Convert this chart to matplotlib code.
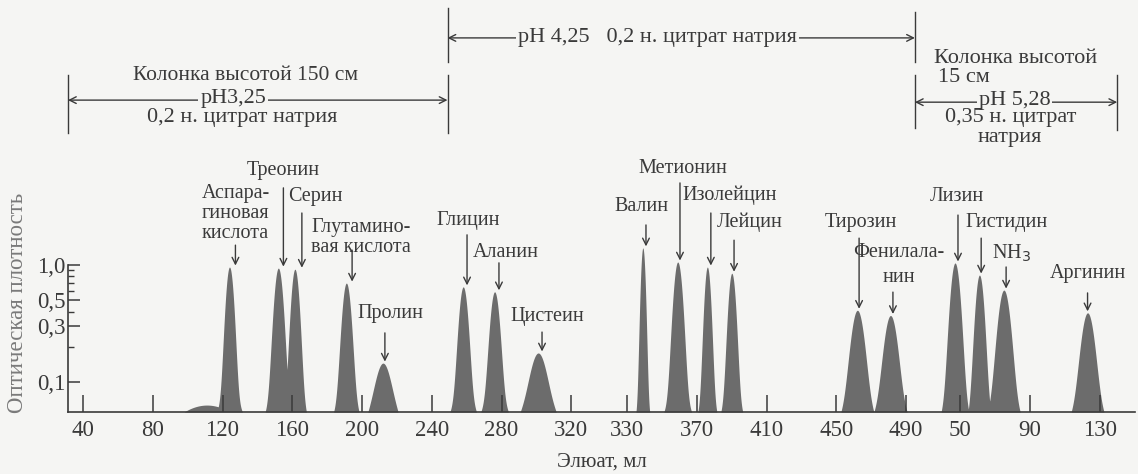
import matplotlib.pyplot as plt
import numpy as np

plt.rcParams['font.family'] = ['Liberation Serif', 'DejaVu Serif']

# пики аминокислот: сегмент шкалы элюата, объём элюата (мл), оптическая плотность в максимуме,
# ширина пика (мл) и полуширина основания (мл)
names = ['Аспара-\nгиновая\nкислота', 'Треонин', 'Серин', 'Глутамино-\nвая кислота', 'Пролин',
         'Глицин', 'Аланин', 'Цистеин', 'Валин', 'Метионин', 'Изолейцин', 'Лейцин',
         'Тирозин', 'Фенилала-\nнин', 'Лизин', 'Гистидин', 'NH$_3$', 'Аргинин']
segment = [0, 0, 0, 0, 0, 0, 0, 0, 1, 1, 1, 1, 1, 1, 2, 2, 2, 2]
eluate = [124, 152, 161.5, 191, 212, 258, 276, 301, 339, 359, 376, 390, 462, 481, 47, 61, 75, 123]
density = [0.96, 0.94, 0.92, 0.70, 0.145, 0.65, 0.59, 0.177, 1.40, 1.06, 0.96, 0.85,
           0.41, 0.37, 1.04, 0.82, 0.61, 0.39]
width = [1.95, 2.2, 2.0, 2.2, 3.7, 2.2, 2.3, 4.0, 1.15, 2.2, 1.6, 1.85, 3.2, 3.2, 2.4, 2.1, 3.0, 3.2]
base = [7.2, 6.9, 5.7, 6.6, 7.2, 7.2, 7.5, 8.9, 3.4, 7.5, 4.9, 5.7, 8.0, 8.3, 6.9, 5.3, 8.0, 8.0]

# низкий фон перед аспарагиновой кислотой
hump_eluate, hump_density, hump_width = 111, 0.0635, 25

# шкала элюата из трёх участков
seg_offset = [0, 22, 493]
seg_ticks = [[40, 80, 120, 160, 200, 240, 280, 320], [330, 370, 410, 450, 490], [50, 90, 130]]

# смены буфера (сегмент, мл)
bounds = [(0, 31.4), (0, 249), (1, 495), (2, 140)]

# подписи: сдвиг текста (мл), высота текста (доля осей), сдвиг стрелки (мл), начало стрелки (доля осей)
lab_dx = [3.4, 2.9, 12, 8.4, 4, 2.8, 6.5, 5, -1, 3, 13, 10.4, 2, 5, 1, 15.8, 4.7, 0]
lab_y = [0.481, 0.585, 0.522, 0.424, 0.240, 0.464, 0.388, 0.231, 0.498, 0.592, 0.527, 0.461,
         0.461, 0.357, 0.522, 0.461, 0.386, 0.335]
lab_ls = [1.08] * 13 + [1.45] + [1.08] * 4
arr_dx = [3.4, 2.9, 4, 3.3, 1.1, 2.2, 2.5, 2.2, 1.8, 1.3, 2, 1.3, 1, 1.4, 1.7, 1, 1.3, 0]
arr_y = [0.405, 0.544, 0.483, 0.393, 0.192, 0.430, 0.362, 0.194, 0.454, 0.556, 0.483, 0.417,
         0.422, 0.291, 0.478, 0.422, 0.352, 0.289]

bg = '#f5f5f3'
ink = '#3a3a3a'
fillc = '#6c6c6c'
ymin = 0.0554
foot = 0.068

def pos(seg, v):
    return v + seg_offset[seg]

fig = plt.figure(figsize=(11.38, 4.74), dpi=100, facecolor=bg)
ax = fig.add_axes([68 / 1138, 62 / 474, 1067 / 1138, 412 / 474])
ax.set_facecolor(bg)
ax.set_yscale('log')
ax.set_xlim(31.4, 643.2)
ax.set_ylim(ymin, 184)

x = np.linspace(31.4, 643.2, 8000)
curves = [hump_density * np.exp(-0.5 * ((x - hump_eluate) / hump_width) ** 2)]
for s, e, d, w, b in zip(segment, eluate, density, width, base):
    c = pos(s, e)
    wf = b / np.sqrt(2 * np.log(foot / ymin))
    curves.append((d - foot) * np.exp(-0.5 * ((x - c) / w) ** 2)
                  + foot * np.exp(-0.5 * ((x - c) / wf) ** 2))
y = np.maximum(np.max(curves, axis=0), ymin)
ax.fill_between(x, y, ymin, color=fillc, lw=0)

# оси
for side in ['top', 'right']:
    ax.spines[side].set_visible(False)
ax.spines['left'].set_bounds(ymin, 1.0)
for side in ['left', 'bottom']:
    ax.spines[side].set_color(ink)
    ax.spines[side].set_linewidth(1.2)

ticks, labels = [], []
for s, tv in enumerate(seg_ticks):
    for v in tv:
        ticks.append(pos(s, v))
        labels.append(str(v))
ax.set_xticks(ticks)
ax.set_xticklabels(labels, fontsize=16.5, color=ink)
ax.tick_params(axis='x', direction='in', length=12, width=1.1, color=ink, pad=6)

ax.set_yticks([0.1, 0.3, 0.5, 1.0])
ax.set_yticklabels(['0,1', '0,3', '0,5', '1,0'], fontsize=16.5, color=ink)
ax.set_yticks([0.2, 0.4, 0.6, 0.7, 0.8, 0.9], minor=True)
ax.yaxis.set_minor_formatter(plt.NullFormatter())
ax.tick_params(axis='y', which='major', direction='in', length=8.5, width=1.1, color=ink, pad=2)
ax.tick_params(axis='y', which='minor', direction='in', length=4, width=1.0, color=ink)

ax.set_xlabel('Элюат, мл', fontsize=15, color=ink, labelpad=8)
fig.text(18 / 1138, 1 - 303 / 474, 'Оптическая плотность', rotation=90, ha='center', va='center',
         fontsize=16.5, color='#7a7a7a')

# подписи пиков
tr = ax.get_xaxis_transform()
arrow = dict(arrowstyle='->', lw=1.0, color=ink, shrinkA=0, shrinkB=0, mutation_scale=12)
for i, name in enumerate(names):
    p = pos(segment[i], eluate[i])
    ax.annotate('', xy=(p + arr_dx[i], density[i] * 1.03), xycoords='data',
                xytext=(p + arr_dx[i], arr_y[i]), textcoords=tr, arrowprops=arrow)
    ax.text(p + lab_dx[i], lab_y[i], name, transform=tr, ha='center', va='center',
            fontsize=14.5, color=ink, linespacing=lab_ls[i])

# условия элюирования
bx = [pos(s, v) for s, v in bounds]
line_kw = dict(color=ink, lw=1.0, transform=tr, clip_on=False)
ax.plot([bx[0], bx[0]], [0.677, 0.818], **line_kw)
ax.plot([bx[1], bx[1]], [0.677, 0.818], **line_kw)
ax.plot([bx[1], bx[1]], [0.850, 0.981], **line_kw)
ax.plot([bx[2], bx[2]], [0.850, 0.971], **line_kw)
ax.plot([bx[2], bx[2]], [0.689, 0.818], **line_kw)
ax.plot([bx[3], bx[3]], [0.684, 0.818], **line_kw)

darrow = dict(arrowstyle='<->', lw=1.0, color=ink, shrinkA=0, shrinkB=0, mutation_scale=12)
ax.annotate('', xy=(bx[0], 0.757), xytext=(bx[1], 0.757), xycoords=tr, textcoords=tr, arrowprops=darrow)
ax.annotate('', xy=(bx[1], 0.908), xytext=(bx[2], 0.908), xycoords=tr, textcoords=tr, arrowprops=darrow)
ax.annotate('', xy=(bx[2], 0.752), xytext=(bx[3], 0.752), xycoords=tr, textcoords=tr, arrowprops=darrow)

box = dict(facecolor=bg, edgecolor='none', pad=1.5)
tk = dict(transform=tr, fontsize=16, color=ink, va='center')
mid01 = (bx[0] + bx[1]) / 2
ax.text(mid01 - 7, 0.816, 'Колонка высотой 150 см', ha='center', fontsize=15.5,
        **{k: v for k, v in tk.items() if k != 'fontsize'})
ax.text(mid01 - 14, 0.762, 'pH3,25', ha='center', bbox=box, **tk)
ax.text(mid01 - 9, 0.714, '0,2 н. цитрат натрия', ha='center', **tk)
ax.text((bx[1] + bx[2]) / 2 - 13.5, 0.908, 'pH 4,25   0,2 н. цитрат натрия', ha='center', bbox=box, **tk)
ax.text(bx[2] + 11, 0.859, 'Колонка высотой', ha='left', **tk)
ax.text(bx[2] + 13, 0.811, '15 см', ha='left', **tk)
mid23 = (bx[2] + bx[3]) / 2
ax.text(mid23 - 1, 0.757, 'pH 5,28', ha='center', bbox=box, **tk)
ax.text(mid23 - 3, 0.714, '0,35 н. цитрат', ha='center', **tk)
ax.text(mid23 - 3.5, 0.667, 'натрия', ha='center', **tk)

fig.savefig('out.png', dpi=100, facecolor=bg)
